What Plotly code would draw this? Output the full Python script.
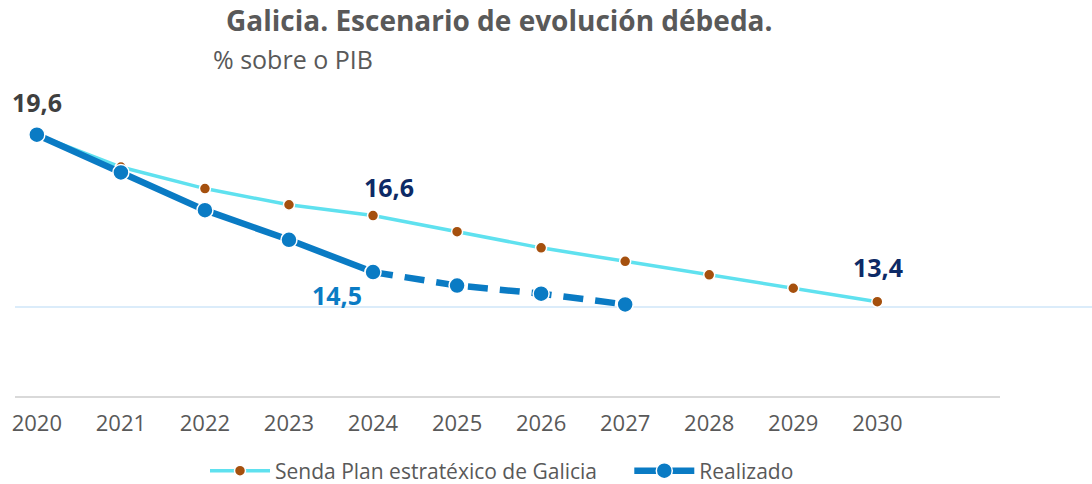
import plotly.graph_objects as go

years = [2020, 2021, 2022, 2023, 2024, 2025, 2026, 2027, 2028, 2029, 2030]
senda = [19.6, 18.4, 17.6, 17.0, 16.6, 16.0, 15.4, 14.9, 14.4, 13.9, 13.4]
real_years_solid = [2020, 2021, 2022, 2023, 2024]
real_solid = [19.6, 18.2, 16.8, 15.7, 14.5]
real_years_dash = [2024, 2025, 2026, 2027]
real_dash = [14.5, 14.0, 13.7, 13.3]
ref_value = 13.2

FONT = "Open Sans"
GRAY = "#595959"
SENDA_LINE = "#5fe1ef"
SENDA_MARK = "#a5500e"
REAL = "#0a7bc4"
NAVY = "#0d2a66"

W, H = 1092, 484
L, R, T, B = 15, 92, 97, 88
pw = W - L - R
ph = H - T - B

def px_x(p):
    return (p - L) / pw

def px_y(p):
    return (H - B - p) / ph

fig = go.Figure()
fig.add_trace(go.Scatter(
    x=years, y=senda, mode="lines+markers",
    name="Senda Plan estratéxico de Galicia&nbsp;&nbsp;&nbsp;&nbsp;&nbsp;",
    line=dict(color=SENDA_LINE, width=3.5),
    marker=dict(color=SENDA_MARK, size=11, line=dict(color="white", width=1.5)),
))
fig.add_trace(go.Scatter(
    x=real_years_solid, y=real_solid, mode="lines+markers", name="Realizado",
    line=dict(color=REAL, width=6.5),
    marker=dict(color=REAL, size=16, line=dict(color="white", width=1.5)),
    legendgroup="r",
))
fig.add_trace(go.Scatter(
    x=real_years_dash, y=real_dash, mode="lines+markers", name="Realizado",
    line=dict(color=REAL, width=6.5, dash="20px,12px"),
    marker=dict(color=REAL, size=16, line=dict(color="white", width=1.5)),
    legendgroup="r", showlegend=False,
))

fig.add_shape(type="line", xref="paper", yref="y", x0=0, x1=px_x(W), y0=ref_value, y1=ref_value,
              line=dict(color="#cfe6f8", width=1.5), layer="below")

annos = [
    dict(x=2020, y=19.6, text="<b>19,6</b>", color="#3f3f3f", xshift=0, yshift=33),
    dict(x=2024, y=16.6, text="<b>16,6</b>", color=NAVY, xshift=16, yshift=29),
    dict(x=2024, y=14.5, text="<b>14,5</b>", color=REAL, xshift=-36, yshift=-23),
    dict(x=2030, y=13.4, text="<b>13,4</b>", color=NAVY, xshift=1, yshift=35),
]
for a in annos:
    fig.add_annotation(x=a["x"], y=a["y"], text=a["text"], showarrow=False,
                       xshift=a["xshift"], yshift=a["yshift"],
                       font=dict(family=FONT, size=25, color=a["color"]))

fig.add_annotation(xref="paper", yref="paper", x=px_x(499), y=px_y(20),
                   text="<b>Galicia. Escenario de evolución débeda.</b>", showarrow=False,
                   xanchor="center", yanchor="middle",
                   font=dict(family=FONT, size=28, color=GRAY))
fig.add_annotation(xref="paper", yref="paper", x=px_x(211), y=px_y(59),
                   text="% sobre o PIB", showarrow=False,
                   xanchor="left", yanchor="middle",
                   font=dict(family=FONT, size=25, color=GRAY))

fig.update_layout(
    width=W, height=H,
    margin=dict(l=L, r=R, t=T, b=B, autoexpand=False),
    paper_bgcolor="white", plot_bgcolor="white",
    font=dict(family=FONT, color=GRAY),
    showlegend=True,
    legend=dict(orientation="h", x=px_x(205), xanchor="left", y=px_y(471), yanchor="middle",
                font=dict(family=FONT, size=21, color=GRAY), tracegroupgap=0, itemwidth=60),
    xaxis=dict(range=[2019.74, 2031.46], tickmode="array", tickvals=years,
               ticktext=[str(y) for y in years], showgrid=False, zeroline=False,
               showline=True, linecolor="#d9d9d9", linewidth=2, automargin=False,
               tickfont=dict(family=FONT, size=22, color=GRAY), ticks="", ticklabelstandoff=7),
    yaxis=dict(range=[9.9, 21.0], showgrid=False, zeroline=False, showticklabels=False,
               showline=False, automargin=False),
)

fig.write_html("out.html", config={"displayModeBar": False},
               post_script="document.body.style.margin='0';document.body.style.padding='0';")
